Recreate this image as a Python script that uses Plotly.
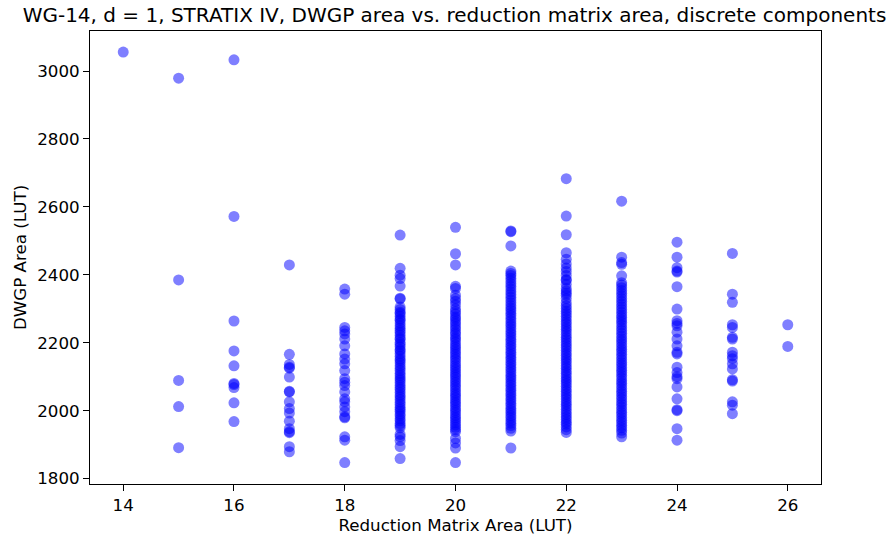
import plotly.graph_objects as go

x_values = [14, 15, 16, 17, 18, 19, 20, 21, 22, 23, 24, 25, 26]

y14 = [3056]
y15 = [2979, 2385, 2089, 2012, 1891]
y16 = [3033, 2572, 2264, 2176, 2132, 2080, 2077, 2068, 2023, 1968]
y17 = [2429, 2166, 2136, 2128, 2125, 2099, 2057, 2055, 2026, 2006, 1993,
       1969, 1947, 1938, 1935, 1894, 1879]
y18 = [2358, 2343, 2245, 2235, 2226, 2211, 2191, 2167, 2152, 2138, 2118,
       2094, 2084, 2074, 2055, 2035, 2026, 2011, 1997, 1982, 1979, 1923,
       1913, 1847]
y19 = [2517, 2419, 2399, 2389, 2367, 2331, 2329,
       2305, 2298, 2290, 2286, 2278, 2270, 2266, 2258, 2250, 2243, 2236,
       2230, 2222, 2214, 2210, 2201, 2195, 2188, 2180, 2176, 2168, 2160,
       2152, 2147, 2140, 2132, 2125, 2118, 2110, 2103, 2096, 2090, 2083,
       2075, 2068, 2062, 2054, 2046, 2040, 2033, 2025, 2018, 2010, 2004,
       1998, 1990, 1984, 1976, 1970, 1962, 1956, 1950,
       1930, 1923, 1912, 1894, 1859]
y20 = [2540, 2462, 2429, 2366, 2360,
       2340, 2330, 2322, 2312, 2300, 2292, 2285, 2276, 2270, 2262, 2255,
       2247, 2240, 2231, 2225, 2216, 2210, 2202, 2194, 2187, 2180, 2172,
       2165, 2157, 2150, 2142, 2134, 2127, 2120, 2112, 2105, 2098, 2090,
       2083, 2075, 2068, 2060, 2052, 2045, 2038, 2030, 2023, 2016, 2008,
       2001, 1994, 1986, 1979, 1972, 1965, 1958, 1951, 1944, 1938,
       1918, 1905, 1890, 1847]
y21 = [2529, 2527, 2485, 2411, 2404, 2398,
       2390, 2382, 2374, 2366, 2358, 2350, 2342, 2334, 2326, 2318, 2310,
       2302, 2295, 2287, 2280, 2272, 2264, 2256, 2249, 2241, 2233, 2226,
       2218, 2210, 2203, 2195, 2188, 2180, 2172, 2165, 2157, 2150, 2142,
       2135, 2127, 2120, 2112, 2104, 2097, 2090, 2082, 2075, 2067, 2060,
       2052, 2045, 2037, 2030, 2022, 2015, 2007, 2000, 1993, 1985, 1978,
       1970, 1963, 1956, 1948, 1940,
       1890]
y22 = [2683, 2573, 2518, 2465, 2446, 2432, 2420, 2410, 2398, 2386, 2384,
       2372, 2360, 2352, 2346,
       2340, 2330, 2318, 2309, 2301, 2293, 2286, 2278, 2270, 2262, 2255,
       2247, 2240, 2232, 2224, 2216, 2209, 2201, 2193, 2186, 2178, 2170,
       2163, 2155, 2148, 2140, 2132, 2125, 2117, 2110, 2102, 2094, 2087,
       2080, 2072, 2064, 2057, 2049, 2042, 2034, 2026, 2019, 2012, 2004,
       1996, 1989, 1981, 1974, 1966, 1960, 1952, 1944, 1936]
y23 = [2617, 2452, 2436, 2431, 2397,
       2377, 2370, 2362, 2354, 2346, 2338, 2330, 2322, 2314, 2306, 2298,
       2290, 2282, 2275, 2267, 2260, 2252, 2244, 2236, 2228, 2220, 2212,
       2205, 2197, 2189, 2181, 2174, 2166, 2158, 2150, 2142, 2135, 2127,
       2119, 2112, 2104, 2096, 2088, 2081, 2073, 2065, 2057, 2050, 2042,
       2034, 2026, 2019, 2011, 2003, 1995, 1988, 1980, 1972, 1965, 1957,
       1950, 1942, 1934,
       1923]
y24 = [2496, 2452, 2421, 2411, 2408, 2365, 2299, 2265, 2257, 2250, 2231,
       2211, 2191, 2172, 2167, 2128, 2112, 2100, 2094, 2070, 2035, 2003,
       2000, 1947, 1913]
y25 = [2463, 2343, 2319, 2253, 2245, 2216, 2211, 2172, 2162, 2153, 2138,
       2123, 2091, 2087, 2026, 2016, 1991]
y26 = [2253, 2189]

columns = [y14, y15, y16, y17, y18, y19, y20, y21, y22, y23, y24, y25, y26]

xs, ys = [], []
for xv, col in zip(x_values, columns):
    for yv in col:
        xs.append(xv)
        ys.append(yv)

font = "DejaVu Sans"

fig = go.Figure()
fig.add_trace(go.Scatter(
    x=xs, y=ys, mode="markers",
    marker=dict(color="blue", opacity=0.5, size=11, line=dict(width=0)),
    showlegend=False,
))

axis_common = dict(
    showgrid=False, zeroline=False, showline=True, linecolor="black",
    linewidth=1, mirror=True, ticks="outside", ticklen=6, tickwidth=1,
    tickcolor="black", tickfont=dict(family=font, size=16.7, color="black"),
)

fig.update_layout(
    width=886, height=542,
    margin=dict(l=90, r=65, t=31, b=58),
    paper_bgcolor="white", plot_bgcolor="white",
    title=dict(
        text="WG-14, d = 1, STRATIX IV, DWGP area vs. reduction matrix area, discrete components",
        x=0.513, xanchor="center", y=0.972, yanchor="middle",
        font=dict(family=font, size=20, color="black"),
    ),
    xaxis=dict(
        range=[13.4, 26.6], tickmode="array",
        tickvals=[14, 16, 18, 20, 22, 24, 26],
        title=dict(text="Reduction Matrix Area (LUT)",
                   font=dict(family=font, size=16.7, color="black"),
                   standoff=4),
        **axis_common,
    ),
    yaxis=dict(
        range=[1784, 3118], tickmode="array",
        tickvals=[1800, 2000, 2200, 2400, 2600, 2800, 3000],
        title=dict(text="DWGP Area (LUT)",
                   font=dict(family=font, size=16.7, color="black"),
                   standoff=6),
        **axis_common,
    ),
)

fig.write_html("out.html")
